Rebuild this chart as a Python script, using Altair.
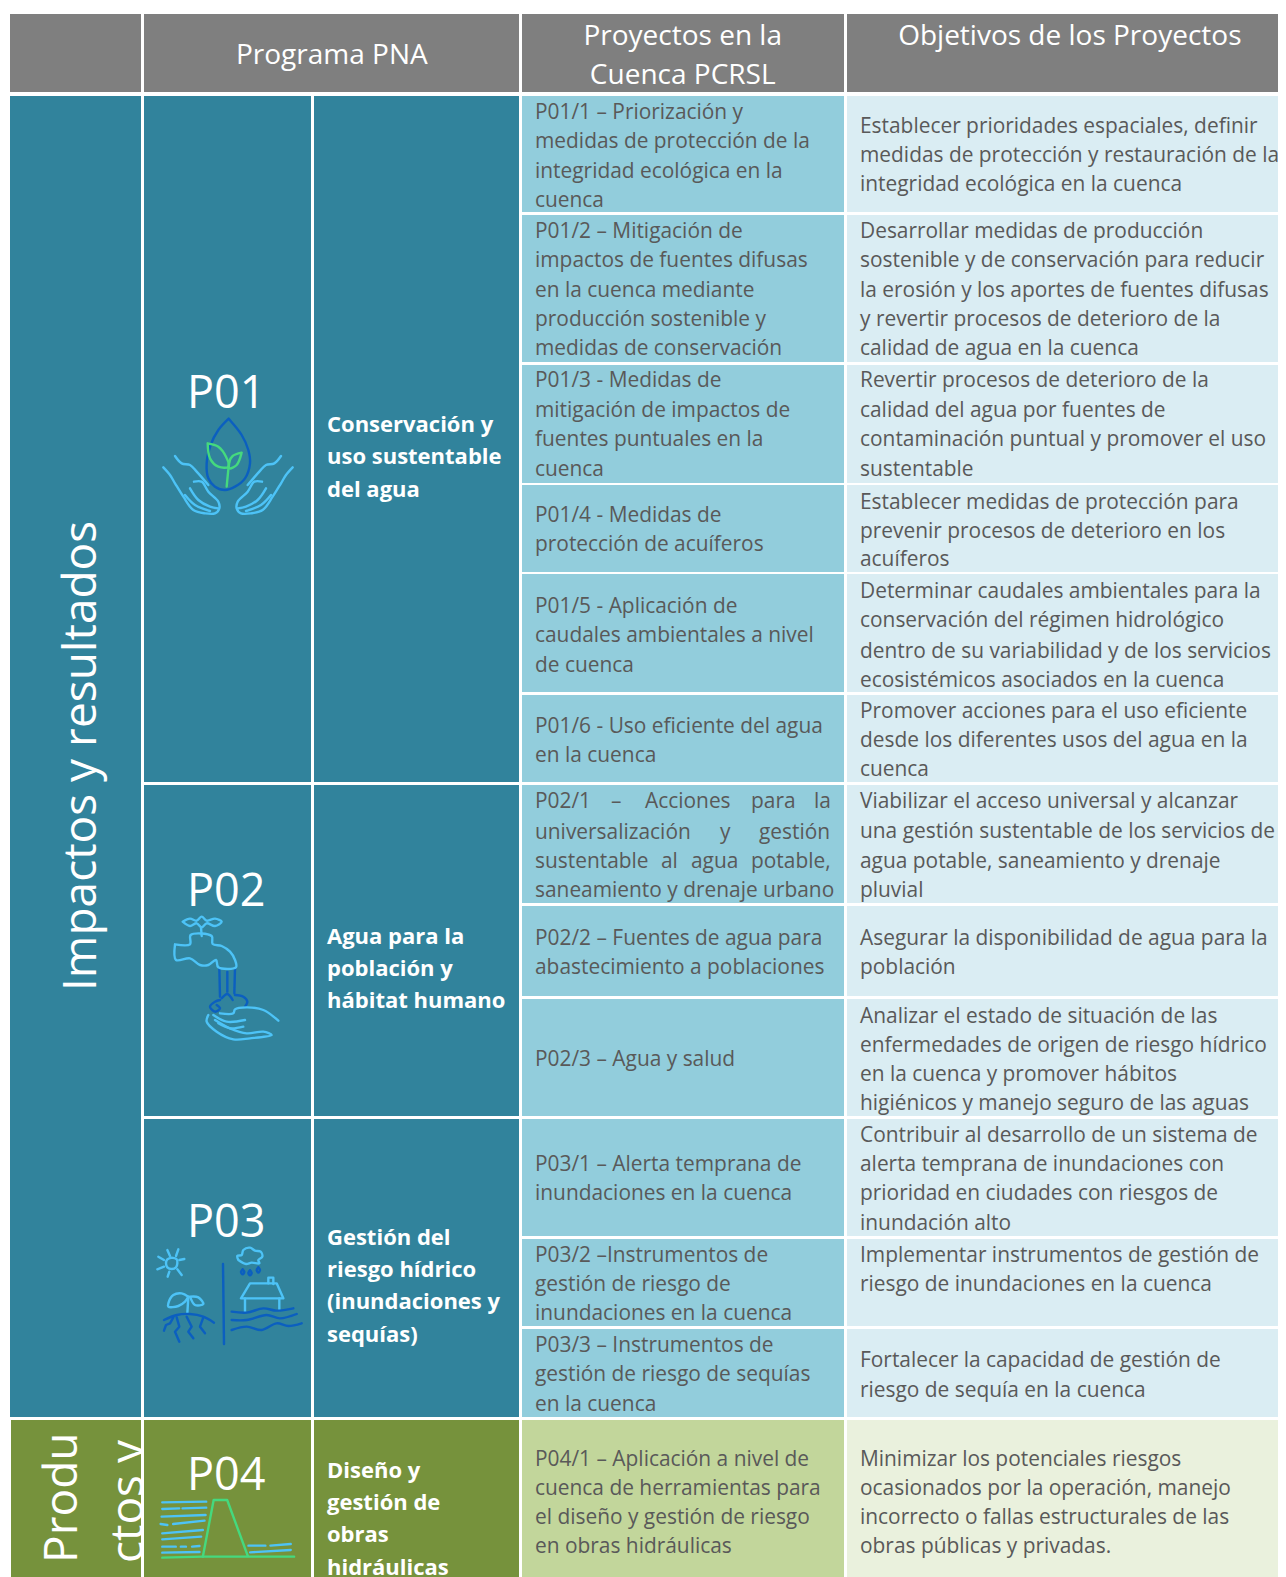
import altair as alt
import pandas as pd

FONT = "Open Sans"
S = 1286 / 1279  # reference units per unit of the reduced view used for reading lines

# ---------- table geometry, in reference units ----------
col_edges = {"c0": (10, 141), "c1": (144, 311), "c2": (314, 519), "c3": (522, 844), "c4": (847, 1278)}
header_cells = [("c0", "c0"), ("c1", "c2"), ("c3", "c3"), ("c4", "c4")]
header_span = (14, 92)
project_rows = [(96, 212), (215, 362), (365, 483), (485, 572), (574, 692), (695, 782),
                (785, 903), (906, 996), (999, 1116), (1119, 1236), (1239, 1326), (1329, 1417)]
program_rows = [(96, 782), (785, 1116), (1119, 1417)]
green_row = (1420, 1577)

# ---------- texts ----------
headers = [("Programa PNA", 330, 54), ("Proyectos en la", 679, 35), ("Cuenca PCRSL", 679, 74),
           ("Objetivos de los Proyectos", 1064, 35)]
codes = [("P01", 225, 389), ("P02", 225, 884), ("P03", 225, 1213), ("P04", 225, 1465)]
programs = [("Conservación y", 422), ("uso sustentable", 454), ("del agua", 486),
            ("Agua para la", 931), ("población y", 963), ("hábitat humano", 995),
            ("Gestión del", 1230), ("riesgo hídrico", 1262), ("(inundaciones y", 1294), ("sequías)", 1327),
            ("Diseño y", 1462), ("gestión de", 1494), ("obras", 1526), ("hidráulicas", 1558)]
projects = [("P01/1 – Priorización y", 110), ("medidas de protección de la", 139), ("integridad ecológica en la", 169), ("cuenca", 198),
            ("P01/2 – Mitigación de", 229), ("impactos de fuentes difusas", 258), ("en la cuenca mediante", 287), ("producción sostenible y", 316), ("medidas de conservación", 345),
            ("P01/3 - Medidas de", 377), ("mitigación de impactos de", 407), ("fuentes puntuales en la", 436), ("cuenca", 465),
            ("P01/4 - Medidas de", 511), ("protección de acuíferos", 540),
            ("P01/5 - Aplicación de", 602), ("caudales ambientales a nivel", 631), ("de cuenca", 660),
            ("P01/6 - Uso eficiente del agua", 721), ("en la cuenca", 750),
            ("saneamiento y drenaje urbano", 884),
            ("P02/2 – Fuentes de agua para", 932), ("abastecimiento a poblaciones", 961),
            ("P02/3 – Agua y salud", 1052),
            ("P03/1 – Alerta temprana de", 1157), ("inundaciones en la cuenca", 1186),
            ("P03/2 –Instrumentos de", 1247), ("gestión de riesgo de", 1276), ("inundaciones en la cuenca", 1305),
            ("P03/3 – Instrumentos de", 1337), ("gestión de riesgo de sequías", 1366), ("en la cuenca", 1395),
            ("P04/1 – Aplicación a nivel de", 1450), ("cuenca de herramientas para", 1479), ("el diseño y gestión de riesgo", 1508), ("en obras hidráulicas", 1537)]
justified = [("P02/1", 535, 796), ("–", 611, 796), ("Acciones", 645, 796), ("para", 751, 796), ("la", 814, 796),
             ("universalización", 535, 826), ("y", 720, 826), ("gestión", 759, 826),
             ("sustentable", 535, 855), ("al", 661, 855), ("agua", 691, 855), ("potable,", 751, 855)]
objectives = [("Establecer prioridades espaciales, definir", 124), ("medidas de protección y restauración de la", 153), ("integridad ecológica en la cuenca", 182),
              ("Desarrollar medidas de producción", 229), ("sostenible y de conservación para reducir", 258), ("la erosión y los aportes de fuentes difusas", 287), ("y revertir procesos de deterioro de la", 316), ("calidad de agua en la cuenca", 345),
              ("Revertir procesos de deterioro de la", 377), ("calidad del agua por fuentes de", 407), ("contaminación puntual y promover el uso", 436), ("sustentable", 465),
              ("Establecer medidas de protección para", 498), ("prevenir procesos de deterioro en los", 527), ("acuíferos", 555),
              ("Determinar caudales ambientales para la", 587), ("conservación del régimen hidrológico", 616), ("dentro de su variabilidad y de los servicios", 646), ("ecosistémicos asociados en la cuenca", 675),
              ("Promover acciones para el uso eficiente", 706), ("desde los diferentes usos del agua en la", 735), ("cuenca", 764),
              ("Viabilizar el acceso universal y alcanzar", 796), ("una gestión sustentable de los servicios de", 825), ("agua potable, saneamiento y drenaje", 855), ("pluvial", 884),
              ("Asegurar la disponibilidad de agua para la", 932), ("población", 961),
              ("Analizar el estado de situación de las", 1009), ("enfermedades de origen de riesgo hídrico", 1038), ("en la cuenca y promover hábitos", 1067), ("higiénicos y manejo seguro de las aguas", 1096),
              ("Contribuir al desarrollo de un sistema de", 1128), ("alerta temprana de inundaciones con", 1157), ("prioridad en ciudades con riesgos de", 1186), ("inundación alto", 1215),
              ("Implementar instrumentos de gestión de", 1247), ("riesgo de inundaciones en la cuenca", 1276),
              ("Fortalecer la capacidad de gestión de", 1352), ("riesgo de sequía en la cuenca", 1381),
              ("Minimizar los potenciales riesgos", 1450), ("ocasionados por la operación, manejo", 1479), ("incorrecto o fallas estructurales de las", 1508), ("obras públicas y privadas.", 1537)]
vertical = [("Impactos y resultados", 96, 991), ("Produ", 77, 1563), ("ctos y", 143, 1563)]

P01 = (140, 350, 3, 3, [
    ("dark", "catmull-rom", [(266,206),(235,240),(212,285),(200,340),(205,385),(225,410),(255,420),(285,410),(315,385),(330,340),(325,300),(305,255),(266,206)]),
    ("green", "catmull-rom", [(260,410),(266,350),(268,335)]),
    ("green", "catmull-rom", [(203,280),(235,290),(258,320),(266,350),(235,350),(210,325),(203,280)]),
    ("green", "catmull-rom", [(305,308),(278,318),(268,335),(268,355),(290,345),(305,308)]),
    ("light", "catmull-rom", [(105,318),(125,340),(150,345),(170,365),(205,405)]),
    ("light", "catmull-rom", [(162,395),(185,395),(205,425),(235,455),(238,475),(225,490),(195,490),(160,480),(130,440),(105,400),(90,375),(70,352)]),
    ("light", "catmull-rom", [(150,415),(175,450),(210,470),(235,475)]),
    ("light", "catmull-rom", [(135,435),(165,465),(210,483)]),
    ("light", "catmull-rom", [(423,318),(403,340),(378,345),(358,365),(323,405)]),
    ("light", "catmull-rom", [(366,395),(343,395),(323,425),(293,455),(290,475),(303,490),(333,490),(368,480),(398,440),(423,400),(438,375),(458,352)]),
    ("light", "catmull-rom", [(378,415),(353,450),(318,470),(293,475)]),
    ("light", "catmull-rom", [(393,435),(363,465),(318,483)]),
])
P02 = (140, 850, 3, 3, [
    ("light", "catmull-rom", [(128,215),(150,206),(170,212),(185,200),(200,212),(225,206),(245,215),(225,228),(200,220),(185,232),(170,220),(150,228),(128,215)]),
    ("light", "linear", [(183,232),(185,258)]),
    ("light", "catmull-rom", [(105,283),(150,283),(152,255),(215,258),(218,282),(245,288),(270,305),(285,330),(288,352),(235,352),(228,330),(205,345),(180,345),(150,325),(108,330),(105,283)]),
    ("dark", "linear", [(238,355),(240,440)]),
    ("dark", "linear", [(262,365),(262,425)]),
    ("dark", "linear", [(285,355),(283,430)]),
    ("dark", "catmull-rom", [(240,450),(225,455),(210,470),(225,485),(240,475),(230,465)]),
    ("dark", "catmull-rom", [(245,445),(262,432),(278,450)]),
    ("dark", "catmull-rom", [(285,435),(310,440),(322,455),(315,470)]),
    ("light", "catmull-rom", [(205,495),(200,515),(230,545),(280,568),(330,565),(395,555),(370,545),(320,550),(270,535),(225,510)]),
    ("light", "catmull-rom", [(240,490),(280,490),(285,478),(320,472),(370,480),(415,512)]),
    ("light", "catmull-rom", [(220,495),(260,515),(315,510)]),
    ("light", "catmull-rom", [(235,520),(270,535),(310,530)]),
])
P03 = (140, 1180, 3, 3, [
    ("light", "catmull-rom", [(95,233),(110,238),(112,250),(108,262),(95,267),(82,262),(78,250),(82,238),(95,233)]),
    ("light", "linear", [(82,210),(90,228)]), ("light", "linear", [(115,208),(108,228)]),
    ("light", "linear", [(118,240),(133,237)]), ("light", "linear", [(112,268),(125,285)]),
    ("light", "linear", [(88,275),(83,290)]), ("light", "linear", [(72,260),(52,268)]),
    ("light", "linear", [(72,240),(55,230)]),
    ("light", "linear", [(142,400),(145,350)]),
    ("light", "catmull-rom", [(145,350),(125,340),(100,345),(85,370),(85,380),(115,378),(135,365),(145,350)]),
    ("light", "catmull-rom", [(150,350),(175,352),(190,372),(165,375),(150,350)]),
    ("dark", "catmull-rom", [(72,420),(110,405),(150,402),(190,410),(222,428)]),
    ("dark", "linear", [(100,412),(90,430),(78,435),(72,452)]),
    ("dark", "linear", [(110,412),(118,440),(105,455),(118,485)]),
    ("dark", "linear", [(140,410),(155,440),(145,455),(160,475)]),
    ("dark", "linear", [(190,412),(180,440),(195,460)]),
    ("dark", "linear", [(249,252),(252,492)]),
    ("light", "catmull-rom", [(295,240),(292,228),(305,225),(310,210),(330,203),(345,212),(362,215),(367,230),(355,240),(358,250),(335,248),(318,252),(295,240)]),
    ("dark", "catmull-rom", [(308,268),(313,276),(308,283),(303,276),(308,268)]),
    ("dark", "catmull-rom", [(330,271),(335,279),(330,286),(325,279),(330,271)]),
    ("dark", "catmull-rom", [(355,262),(360,270),(355,278),(350,270),(355,262)]),
    ("light", "linear", [(385,310),(385,293),(400,293),(400,312)]),
    ("light", "linear", [(303,355),(330,310),(410,310),(430,355),(303,355)]),
    ("light", "linear", [(315,355),(315,395)]),
    ("light", "linear", [(418,355),(418,390)]),
    ("dark", "catmull-rom", [(275,395),(320,398),(370,385),(410,392),(460,385)]),
    ("dark", "catmull-rom", [(275,420),(320,420),(380,405),(420,415),(470,402)]),
    ("dark", "catmull-rom", [(275,450),(320,440),(365,450),(410,430),(445,438),(485,430)]),
])
P04 = (0, 1400, 2.958, 3, [
    ("green", "linear", [(600,470),(632,300),(672,300),(733,468)]),
    ("green", "linear", [(480,473),(600,470),(870,470)]),
    ("light", "linear", [(480,307),(610,305)]), ("light", "linear", [(480,327),(530,325)]),
    ("light", "linear", [(540,325),(610,323)]), ("light", "linear", [(478,350),(608,345)]),
    ("light", "linear", [(475,372),(495,375)]), ("light", "linear", [(512,372),(605,362)]),
    ("light", "linear", [(480,400),(600,390)]), ("light", "linear", [(480,418),(595,410)]),
    ("light", "linear", [(480,440),(520,440)]), ("light", "linear", [(535,440),(550,440)]),
    ("light", "linear", [(568,440),(590,438)]), ("light", "linear", [(480,458),(590,456)]),
    ("light", "linear", [(735,437),(785,437)]), ("light", "linear", [(800,437),(860,432)]),
    ("light", "linear", [(740,457),(860,450)]),
])
icons = [P01, P02, P03, P04]

# ---------- tables for the library ----------
cells = []
def cell(kind, x0, x1, y0, y1):
    cells.append(dict(kind=kind, x=x0, x2=x1, y=y0, y2=y1))

for a, b in header_cells:
    cell("header", col_edges[a][0], col_edges[b][1], *header_span)
for y0, y1 in project_rows:
    cell("teal_mid", *col_edges["c3"], y0, y1)
    cell("teal_pale", *col_edges["c4"], y0, y1)
cell("teal", *col_edges["c0"], 96, 1417)
cell("green", 11, 141, *green_row)
cell("green_mid", *col_edges["c3"], *green_row)
cell("green_pale", *col_edges["c4"], *green_row)
cells_df = pd.DataFrame(cells)

front = []
for y0, y1 in program_rows:
    front.append(dict(kind="teal", x=144, x2=311, y=y0, y2=y1))
    front.append(dict(kind="teal", x=314, x2=519, y=y0, y2=y1))
front.append(dict(kind="green", x=144, x2=311, y=green_row[0], y2=green_row[1]))
front.append(dict(kind="green", x=314, x2=519, y=green_row[0], y2=green_row[1]))
front.append(dict(kind="white", x=141, x2=144, y=1417, y2=1577))
front_df = pd.DataFrame(front)

strokes = []
sid = 0
for ox, oy, fx, fy, paths in icons:
    for colour, interp, pts in paths:
        sid += 1
        for i, (px, py) in enumerate(pts):
            strokes.append(dict(sid=sid, colour=colour, interp=interp, ord=i, x=ox + px / fx, y=oy + py / fy))
strokes_df = pd.DataFrame(strokes)

xs = alt.Scale(domain=[8, 1278], nice=False, zero=False)
ys = alt.Scale(domain=[1577, 8], nice=False, zero=False)
X = alt.X("x:Q", scale=xs, axis=None)
Y = alt.Y("y:Q", scale=ys, axis=None)

fill = alt.Color("kind:N", legend=None, scale=alt.Scale(
    domain=["header", "teal", "teal_mid", "teal_pale", "green", "green_mid", "green_pale", "white"],
    range=["#7F7F7F", "#31839C", "#92CDDC", "#DAEDF3", "#76923C", "#C2D69B", "#EAF1DD", "#FFFFFF"]))

def rects(df):
    return alt.Chart(df).mark_rect().encode(x=X, x2="x2:Q", y=Y, y2="y2:Q", color=fill)

def texts(rows, size, colour, align="left", weight="normal", dy=0):
    df = pd.DataFrame(rows, columns=["t", "x", "y"])
    return alt.Chart(df).mark_text(font=FONT, fontSize=size, color=colour, align=align, dy=dy,
                                   baseline="middle", fontWeight=weight).encode(x=X, y=Y, text="t:N")

body = "#595959"
T_LEFT3, T_LEFT4, T_LEFT2 = 535, 860, 327
rows_head = [(t, x * S, y * S) for t, x, y in headers]
rows_code = [(t, x * S, y * S) for t, x, y in codes]
rows_prog = [(t, T_LEFT2, y * S) for t, y in programs]
rows_proj = [(t, T_LEFT3, y * S) for t, y in projects] + [(t, x, y * S) for t, x, y in justified]
rows_obj = [(t, T_LEFT4, y * S) for t, y in objectives]

vert_df = pd.DataFrame(vertical, columns=["t", "x", "y"])
vert = alt.Chart(vert_df).mark_text(font=FONT, fontSize=46, color="white", angle=270, align="left",
                                    baseline="alphabetic").encode(x=X, y=Y, text="t:N")

line_colour = alt.Color("colour:N", legend=None, scale=alt.Scale(
    domain=["light", "dark", "green"], range=["#4DC3F7", "#0B5FC0", "#45D97E"]))

def icon_layer(interp):
    return (alt.Chart(strokes_df[strokes_df.interp == interp])
            .mark_line(strokeWidth=2.4, interpolate=interp, strokeCap="round", strokeJoin="round")
            .encode(x=X, y=Y, order="ord:Q", detail="sid:N", color=line_colour))

chart = alt.layer(
    rects(cells_df),
    vert,
    rects(front_df),
    icon_layer("linear"),
    icon_layer("catmull-rom"),
    texts(rows_head, 28, "white", "center", dy=2),
    texts(rows_code, 45, "white", "center", dy=3),
    texts(rows_prog, 22, "white", "left", "bold", dy=1),
    texts(rows_proj, 20.9, body, dy=2),
    texts(rows_obj, 20.9, body, dy=2),
).resolve_scale(color="independent").properties(
    width=1270, height=1569, padding=0, background="white",
    autosize=alt.AutoSizeParams(type="none")
).configure_view(stroke=None)

chart.save("out.html", embed_options={"renderer": "svg", "actions": False})
